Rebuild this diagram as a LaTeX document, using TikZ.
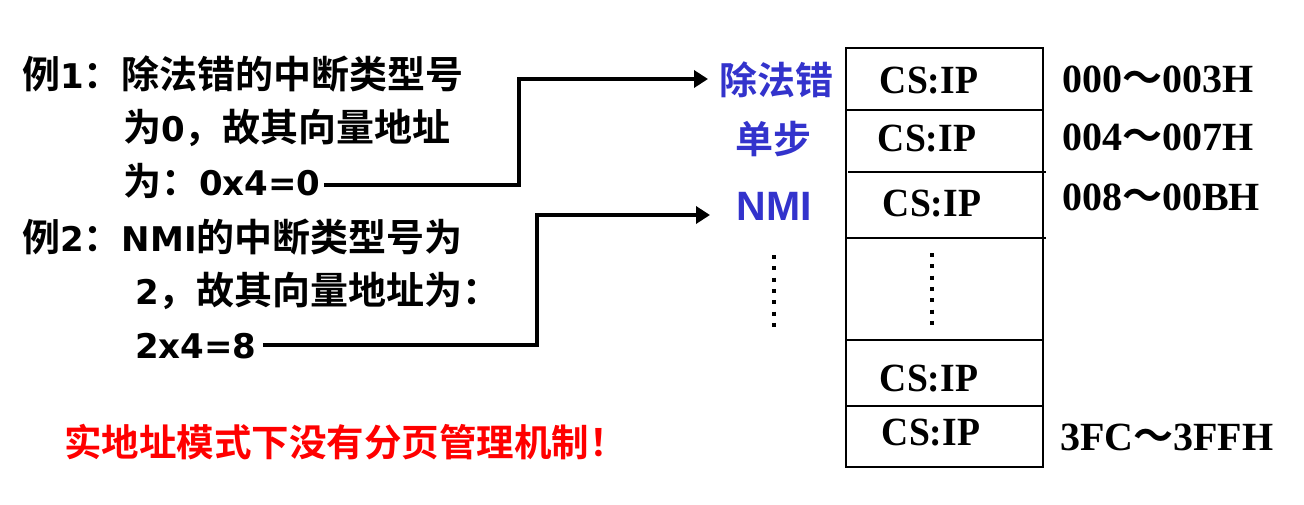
\documentclass[tikz,border=0pt]{standalone}
\usepackage{fontspec}
\usetikzlibrary{arrows.meta}
\newfontfamily\cjk{Noto Sans CJK SC}[BoldFont={* Bold}]
\newfontfamily\latf{DejaVu Sans}
\newfontfamily\sansf{Liberation Sans}
\newfontfamily\serf{Liberation Serif}
\definecolor{lblue}{RGB}{51,51,204}
\newcommand\la[1]{{\latf\bfseries\fontsize{34}{40}\selectfont #1}}
\newcommand\tl{{\cjk\fontsize{40}{40}\selectfont ～}}
\begin{document}
\begin{tikzpicture}[x=1pt,y=-1pt,
  lt/.style={anchor=west, inner sep=0pt, font=\cjk\bfseries\fontsize{38}{40}\selectfont, text height=33.4pt, text depth=4.6pt},
  blab/.style={inner sep=0pt, text=lblue, font=\cjk\bfseries\fontsize{38}{40}\selectfont, text height=33.4pt, text depth=4.6pt},
  cell/.style={inner sep=0pt, font=\serf\bfseries\fontsize{40}{40}\selectfont, text height=26.4pt, text depth=0pt},
  addr/.style={anchor=west, inner sep=0pt, font=\serf\bfseries\fontsize{40}{40}\selectfont, text height=26.4pt, text depth=0pt},
  conn/.style={line width=4.5pt, -{Triangle[length=14pt,width=17pt]}},
  tbl/.style={line width=2pt},
  rowl/.style={line width=2.6pt},
  dotl/.style={line width=4pt, dash pattern=on 4pt off 7.3pt}]
\useasboundingbox[fill=white] (0,0) rectangle (1304,504);

% left text
\node[lt] (l1) at (22,74) {例\la{1}：除法错的中断类型号};
\node[lt] (l2) at (123,127) {为\la{0}，故其向量地址};
\node[lt] (l3) at (123,181) {为：\la{0x4=0}};
\node[lt] (l4) at (22,237) {例\la{2}：\la{NMI}的中断类型号为};
\node[lt] (l5) at (135,290) {\la{2}，故其向量地址为：};
\node[lt] (l6) at (135,344) {\la{2x4=8}};

% red note
\node[lt, font=\cjk\bfseries\fontsize{37.5}{40}\selectfont, text=red, text height=33pt, text depth=4.5pt] (note) at (64,442) {实地址模式下没有分页管理机制！};

% blue labels
\node[blab] (d1) at (776,80) {除法错};
\node[blab] (d2) at (773,139) {单步};
\node[blab, font=\sansf\bfseries\fontsize{41}{41}\selectfont, text height=29.4pt, text depth=0pt] (d3) at (774,206) {NMI};
\coordinate (dl1) at (774,255);
\coordinate (dl2) at (774,327);
\draw[dotl] (dl1) -- (dl2);

% connectors
\coordinate (k1) at (519,79);
\coordinate (t1) at (708,79);
\coordinate (k2) at (537,215);
\coordinate (t2) at (710,215);
\draw[conn] ([xshift=3pt,yshift=-4pt]l3.east) -| (k1) -- (t1);
\draw[conn] ([xshift=6pt,yshift=-1pt]l6.east) -| (k2) -- (t2);

% table
\draw[tbl] (846,48) rectangle (1043,467);
\draw[rowl] (846,110) -- (1043,110);
\draw[rowl] (848,172) -- (1046,172);
\draw[rowl] (846,238) -- (1046,238);
\draw[rowl] (846,340) -- (1043,340);
\draw[rowl] (846,406) -- (1043,406);

\node[cell] (r1) at (929,80) {\scalebox{0.94}[1]{CS:IP}};
\node[cell] (r2) at (927,138) {\scalebox{0.94}[1]{CS:IP}};
\node[cell] (r3) at (932,203) {\scalebox{0.94}[1]{CS:IP}};
\node[cell] (r5) at (929,378) {\scalebox{0.94}[1]{CS:IP}};
\node[cell] (r6) at (931,432) {\scalebox{0.94}[1]{CS:IP}};
\coordinate (dr1) at (932,253);
\coordinate (dr2) at (932,325);
\draw[dotl] (dr1) -- (dr2);

% addresses
\node[addr] (a1) at (1062,79) {000\tl 003H};
\node[addr] (a2) at (1062,137) {004\tl 007H};
\node[addr] (a3) at (1062,197) {008\tl 00BH};
\node[addr] (a6) at (1060,437) {3FC\tl 3FFH};
\end{tikzpicture}
\end{document}
